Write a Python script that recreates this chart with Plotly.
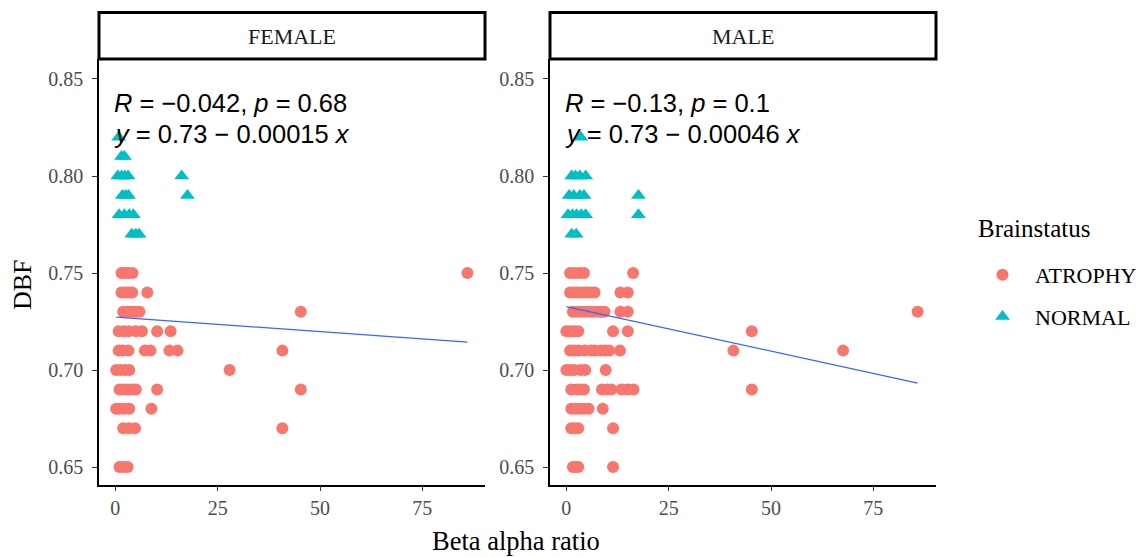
import numpy as np
import plotly.graph_objects as go

# ---------------- data ----------------
panels = ["FEMALE", "MALE"]

female_atrophy_x = [1.5, 2.3, 3.2, 4.2, 86,
                    1.5, 2.5, 3.5, 4.1, 7.8,
                    1.9, 3.0, 4.0, 5.0, 5.9, 45.3,
                    0.8, 2.0, 3.3, 5.0, 6.5, 10.2, 13.5,
                    0.8, 1.8, 3.2, 7.2, 8.6, 13.2, 15.2, 40.8,
                    0.2, 1.2, 2.3, 3.4, 27.9,
                    1.0, 2.0, 3.0, 4.0, 5.0, 10.2, 45.3,
                    0.2, 1.0, 2.2, 3.4, 8.8,
                    1.9, 3.3, 4.8, 40.8,
                    1.0, 2.0, 3.0]
female_atrophy_y = [0.75, 0.75, 0.75, 0.75, 0.75,
                    0.74, 0.74, 0.74, 0.74, 0.74,
                    0.73, 0.73, 0.73, 0.73, 0.73, 0.73,
                    0.72, 0.72, 0.72, 0.72, 0.72, 0.72, 0.72,
                    0.71, 0.71, 0.71, 0.71, 0.71, 0.71, 0.71, 0.71,
                    0.70, 0.70, 0.70, 0.70, 0.70,
                    0.69, 0.69, 0.69, 0.69, 0.69, 0.69, 0.69,
                    0.68, 0.68, 0.68, 0.68, 0.68,
                    0.67, 0.67, 0.67, 0.67,
                    0.65, 0.65, 0.65]

female_normal_x = [0.8,
                   1.5, 2.2,
                   0.6, 1.5, 2.3, 3.1, 16.2,
                   1.7, 2.5, 3.2, 17.6,
                   0.9, 2.2, 3.4, 4.4,
                   4.0, 5.0, 5.8]
female_normal_y = [0.82,
                   0.81, 0.81,
                   0.80, 0.80, 0.80, 0.80, 0.80,
                   0.79, 0.79, 0.79, 0.79,
                   0.78, 0.78, 0.78, 0.78,
                   0.77, 0.77, 0.77]

male_atrophy_x = [0.9, 2.0, 3.2, 4.3, 16.3,
                  0.9, 2.0, 3.0, 4.0, 5.0, 6.0, 6.9, 13.2, 15.0,
                  1.6, 2.5, 3.5, 4.5, 5.5, 6.5, 7.5, 8.4, 9.3, 13.2, 15.0, 85.8,
                  0.0, 1.0, 2.0, 2.9, 11.4, 15.0, 45.3,
                  0.9, 2.0, 3.0, 4.5, 6.0, 7.0, 8.5, 9.5, 10.5, 13.1, 40.8, 67.6,
                  0.0, 1.0, 2.0, 3.5, 4.6, 9.6,
                  1.2, 2.5, 3.5, 4.3, 8.7, 10.0, 11.0, 13.5, 15.0, 16.4, 45.3,
                  1.2, 2.2, 3.2, 4.3, 5.4, 8.9,
                  1.2, 2.0, 2.9, 11.4,
                  1.6, 2.2, 2.9, 11.4]
male_atrophy_y = [0.75, 0.75, 0.75, 0.75, 0.75,
                  0.74, 0.74, 0.74, 0.74, 0.74, 0.74, 0.74, 0.74, 0.74,
                  0.73, 0.73, 0.73, 0.73, 0.73, 0.73, 0.73, 0.73, 0.73, 0.73, 0.73, 0.73,
                  0.72, 0.72, 0.72, 0.72, 0.72, 0.72, 0.72,
                  0.71, 0.71, 0.71, 0.71, 0.71, 0.71, 0.71, 0.71, 0.71, 0.71, 0.71, 0.71,
                  0.70, 0.70, 0.70, 0.70, 0.70, 0.70,
                  0.69, 0.69, 0.69, 0.69, 0.69, 0.69, 0.69, 0.69, 0.69, 0.69, 0.69,
                  0.68, 0.68, 0.68, 0.68, 0.68, 0.68,
                  0.67, 0.67, 0.67, 0.67,
                  0.65, 0.65, 0.65, 0.65]

male_normal_x = [3.5,
                 1.3, 2.2, 3.3, 4.7,
                 0.7, 1.8, 3.3, 4.3, 17.6,
                 0.4, 1.5, 2.5, 3.6, 4.7, 17.6,
                 1.3, 2.4]
male_normal_y = [0.82,
                 0.80, 0.80, 0.80, 0.80,
                 0.79, 0.79, 0.79, 0.79, 0.79,
                 0.78, 0.78, 0.78, 0.78, 0.78, 0.78,
                 0.77, 0.77]

# linear fits (intercept, slope) and x extent of each fitted line
fit_intercept = [0.7273, 0.7327]
fit_slope = [-0.00015, -0.00046]
fit_xrange = [[0.2, 86.0], [0.0, 85.8]]

cor_labels = ["<i>R</i> = \u22120.042, <i>p</i> = 0.68",
              "<i>R</i> = \u22120.13, <i>p</i> = 0.1"]
eq_labels = ["<i>y</i> = 0.73 \u2212 0.00015 <i>x</i>",
             "<i>y</i> = 0.73 \u2212 0.00046 <i>x</i>"]

y_ticks = [0.65, 0.70, 0.75, 0.80, 0.85]
y_ticktext = ["0.65", "0.70", "0.75", "0.80", "0.85"]
x_ticks = [0, 25, 50, 75]

# ---------------- figure ----------------
W, H = 1144, 557
RED = "#F8766D"
TEAL = "#00BFC4"
SERIF = "Liberation Serif, Times New Roman, serif"
SANS = "Liberation Sans, Arial, sans-serif"

fig = go.Figure()

atrophy = [(female_atrophy_x, female_atrophy_y), (male_atrophy_x, male_atrophy_y)]
normal = [(female_normal_x, female_normal_y), (male_normal_x, male_normal_y)]

for i in range(2):
    xa = "x" if i == 0 else "x2"
    ya = "y" if i == 0 else "y2"
    fig.add_trace(go.Scatter(
        x=atrophy[i][0], y=atrophy[i][1], mode="markers", xaxis=xa, yaxis=ya,
        name="ATROPHY", legendgroup="ATROPHY", showlegend=(i == 0),
        marker=dict(symbol="circle", size=12, color=RED, line=dict(width=0))))
    fig.add_trace(go.Scatter(
        x=normal[i][0], y=normal[i][1], mode="markers", xaxis=xa, yaxis=ya,
        name="NORMAL", legendgroup="NORMAL", showlegend=(i == 0),
        marker=dict(symbol="triangle-up", size=13, color=TEAL, line=dict(width=0))))
    lx = np.array(fit_xrange[i])
    ly = fit_intercept[i] + fit_slope[i] * lx
    fig.add_trace(go.Scatter(
        x=lx, y=ly, mode="lines", xaxis=xa, yaxis=ya, showlegend=False,
        line=dict(color="#3366FF", width=1.2)))

px2x = lambda p: p / W
px2y = lambda p: (H - p) / H

dom_x = [[px2x(99), px2x(485)], [px2x(550), px2x(936)]]
dom_y = [px2y(484.5), px2y(59)]

axis_common = dict(
    showline=True, linecolor="black", linewidth=1.6, mirror=False,
    ticks="outside", ticklen=5, tickwidth=1.3, tickcolor="#333333",
    showgrid=False, zeroline=False,
    tickfont=dict(family=SERIF, size=20, color="#4D4D4D"),
)

fig.update_layout(
    width=W, height=H,
    margin=dict(l=0, r=0, t=0, b=0),
    paper_bgcolor="white", plot_bgcolor="white",
    xaxis=dict(domain=dom_x[0], range=[-4.0, 90.3], tickvals=x_ticks, anchor="y", **axis_common),
    yaxis=dict(domain=dom_y, range=[0.641, 0.8603], tickvals=y_ticks, ticktext=y_ticktext,
               anchor="x", ticklabelstandoff=5, **axis_common),
    xaxis2=dict(domain=dom_x[1], range=[-4.0, 90.3], tickvals=x_ticks, anchor="y2", **axis_common),
    yaxis2=dict(domain=dom_y, range=[0.641, 0.8603], tickvals=y_ticks, ticktext=y_ticktext,
                anchor="x2", ticklabelstandoff=5, **axis_common),
    legend=dict(
        x=px2x(970), y=px2y(254), xanchor="left", yanchor="top",
        font=dict(family=SERIF, size=22, color="black"),
        itemwidth=55, tracegroupgap=10, bgcolor="rgba(0,0,0,0)",
    ),
    showlegend=True,
)

shapes = []
annotations = []
for i in range(2):
    shapes.append(dict(type="rect", xref="paper", yref="paper",
                       x0=dom_x[i][0], x1=dom_x[i][1], y0=px2y(59), y1=px2y(12.5),
                       line=dict(color="black", width=3), fillcolor="white", layer="above"))
    annotations.append(dict(text=panels[i], xref="paper", yref="paper",
                            x=(dom_x[i][0] + dom_x[i][1]) / 2, y=px2y(36),
                            xanchor="center", yanchor="middle", showarrow=False,
                            font=dict(family=SERIF, size=22, color="#1A1A1A")))
    left = 112 if i == 0 else 563
    annotations.append(dict(text=cor_labels[i], xref="paper", yref="paper",
                            x=px2x(left), y=px2y(103), xanchor="left", yanchor="middle",
                            showarrow=False, font=dict(family=SANS, size=25.5, color="black")))
    annotations.append(dict(text=eq_labels[i], xref="paper", yref="paper",
                            x=px2x(left), y=px2y(134), xanchor="left", yanchor="middle",
                            showarrow=False, font=dict(family=SANS, size=25.5, color="black")))

annotations.append(dict(text="Brainstatus", xref="paper", yref="paper",
                        x=px2x(976), y=px2y(228), xanchor="left", yanchor="middle",
                        showarrow=False, font=dict(family=SERIF, size=25, color="black")))
annotations.append(dict(text="Beta alpha ratio", xref="paper", yref="paper",
                        x=px2x(516), y=px2y(541), xanchor="center", yanchor="middle",
                        showarrow=False, font=dict(family=SERIF, size=26.5, color="black")))
annotations.append(dict(text="DBF", xref="paper", yref="paper", textangle=-90,
                        x=px2x(22), y=px2y(285), xanchor="center", yanchor="middle",
                        showarrow=False, font=dict(family=SERIF, size=26, color="black")))

fig.update_layout(shapes=shapes, annotations=annotations)

fig.write_html("out.html")
